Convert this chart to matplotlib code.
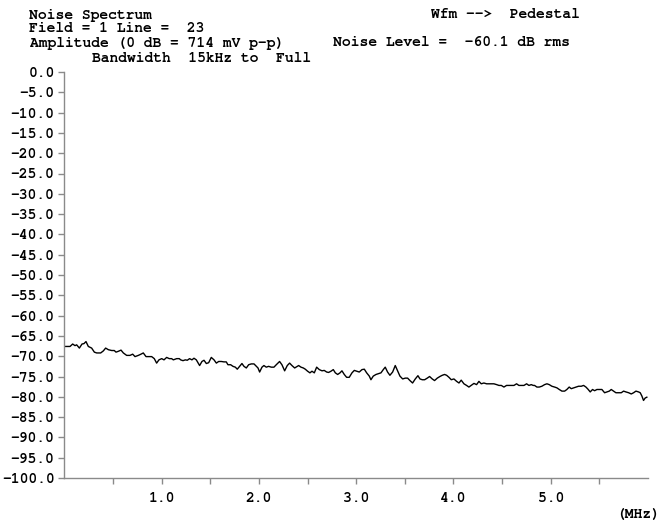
import matplotlib
matplotlib.use("Agg")
import matplotlib.pyplot as plt
import numpy as np

# noise spectrum trace (MHz, dB)
freq_mhz = [
    0.000, 0.059, 0.086, 0.110, 0.127, 0.155, 0.182, 0.202, 0.223, 0.247,
    0.281, 0.309, 0.333, 0.374, 0.401, 0.425, 0.453, 0.487, 0.514, 0.531,
    0.555, 0.583, 0.607, 0.641, 0.675, 0.703, 0.727, 0.761, 0.788, 0.812,
    0.840, 0.898, 0.925, 0.949, 0.973, 1.001, 1.025, 1.052, 1.079, 1.103,
    1.121, 1.155, 1.182, 1.196, 1.220, 1.244, 1.264, 1.288, 1.312, 1.333,
    1.357, 1.391, 1.415, 1.436, 1.460, 1.484, 1.511, 1.539, 1.563, 1.587,
    1.614, 1.641, 1.665, 1.682, 1.710, 1.734, 1.758, 1.778, 1.802, 1.826,
    1.847, 1.871, 1.895, 1.922, 1.950, 1.974, 1.991, 2.008, 2.032, 2.052,
    2.076, 2.100, 2.128, 2.155, 2.179, 2.213, 2.237, 2.265, 2.292, 2.316,
    2.340, 2.368, 2.395, 2.409, 2.433, 2.457, 2.477, 2.501, 2.525, 2.546,
    2.570, 2.594, 2.621, 2.649, 2.672, 2.697, 2.717, 2.741, 2.765, 2.786,
    2.810, 2.834, 2.854, 2.878, 2.902, 2.929, 2.957, 2.981, 3.005, 3.032,
    3.060, 3.084, 3.108, 3.135, 3.152, 3.176, 3.204, 3.231, 3.255, 3.279,
    3.299, 3.323, 3.347, 3.375, 3.402, 3.426, 3.450, 3.478, 3.505, 3.529,
    3.553, 3.580, 3.608, 3.635, 3.656, 3.680, 3.704, 3.731, 3.755, 3.782,
    3.806, 3.834, 3.861, 3.885, 3.909, 3.930, 3.954, 3.978, 4.005, 4.033,
    4.057, 4.080, 4.108, 4.135, 4.159, 4.183, 4.211, 4.238, 4.262, 4.286,
    4.313, 4.341, 4.375, 4.416, 4.444, 4.468, 4.492, 4.519, 4.546, 4.570,
    4.594, 4.622, 4.649, 4.673, 4.697, 4.725, 4.752, 4.776, 4.800, 4.820,
    4.834, 4.858, 4.882, 4.909, 4.937, 4.961, 4.985, 5.012, 5.040, 5.064,
    5.088, 5.115, 5.143, 5.166, 5.190, 5.211, 5.235, 5.259, 5.286, 5.314,
    5.338, 5.362, 5.382, 5.406, 5.430, 5.451, 5.475, 5.499, 5.526, 5.554,
    5.578, 5.602, 5.622, 5.646, 5.670, 5.697, 5.725, 5.749, 5.773, 5.801,
    5.828, 5.852, 5.876, 5.903, 5.920, 5.937, 5.954, 5.971, 5.988,
]
level_db = [
    -67.6, -67.6, -67.0, -67.4, -67.2, -68.0, -67.0, -66.9, -66.4, -67.6,
    -68.0, -69.0, -69.2, -69.2, -68.7, -68.0, -68.4, -68.6, -68.6, -69.0,
    -68.8, -68.5, -69.2, -69.8, -69.8, -69.5, -70.1, -69.8, -69.5, -69.2,
    -70.1, -70.1, -70.6, -71.7, -70.9, -70.6, -70.9, -70.3, -70.6, -70.6,
    -70.9, -70.6, -70.6, -70.9, -71.1, -70.9, -71.0, -70.6, -70.9, -70.5,
    -70.9, -72.3, -71.3, -71.0, -71.8, -71.6, -70.3, -70.9, -71.7, -71.3,
    -71.3, -71.4, -71.4, -72.1, -72.1, -72.5, -72.7, -73.2, -72.5, -71.8,
    -72.5, -72.9, -72.1, -71.9, -71.9, -72.5, -72.9, -73.9, -72.7, -72.3,
    -72.7, -72.5, -72.7, -72.7, -72.1, -71.3, -72.1, -73.6, -72.3, -71.7,
    -72.3, -72.9, -72.5, -72.3, -72.7, -72.9, -73.2, -73.7, -74.1, -73.7,
    -74.1, -72.7, -73.3, -73.6, -73.5, -73.9, -74.0, -73.7, -73.3, -74.1,
    -74.5, -74.1, -73.6, -74.5, -75.2, -75.2, -74.1, -73.5, -73.7, -73.9,
    -73.3, -73.2, -74.1, -74.9, -75.8, -74.9, -74.5, -74.3, -74.1, -73.3,
    -72.7, -73.9, -74.7, -73.9, -72.3, -73.6, -74.9, -75.6, -75.4, -75.4,
    -76.0, -76.6, -75.6, -74.8, -75.6, -75.8, -75.8, -75.4, -75.0, -75.6,
    -76.0, -75.4, -75.0, -74.7, -74.5, -74.7, -75.2, -75.8, -75.6, -76.2,
    -76.6, -75.9, -76.8, -77.2, -77.6, -77.2, -76.7, -77.0, -76.2, -76.8,
    -76.6, -76.8, -76.8, -76.8, -77.0, -77.2, -77.2, -77.6, -77.2, -77.2,
    -77.2, -77.2, -76.8, -77.2, -77.2, -77.2, -76.8, -77.2, -77.0, -77.2,
    -77.2, -77.6, -77.6, -77.4, -77.0, -76.8, -77.0, -77.4, -77.6, -77.8,
    -78.2, -78.6, -78.6, -78.2, -77.6, -78.0, -77.8, -77.6, -77.4, -77.4,
    -77.2, -77.6, -78.1, -78.8, -78.2, -78.5, -78.2, -78.2, -78.2, -79.0,
    -78.8, -78.6, -78.2, -78.6, -79.0, -79.0, -79.0, -78.6, -78.8, -79.0,
    -79.3, -79.0, -78.6, -78.8, -79.0, -79.8, -80.9, -80.3, -80.1,
]

y_ticks = np.arange(0, -101, -5)
x_major = [1, 2, 3, 4, 5]
x_minor = [0.5, 1.5, 2.5, 3.5, 4.5, 5.5]

header = [
    ("Noise Spectrum", 29, 15),
    ("Wfm -->  Pedestal", 431, 15),
    ("Field = 1 Line =  23", 29, 29),
    ("Amplitude (0 dB = 714 mV p-p)", 30, 43),
    ("Noise Level =  -60.1 dB rms", 333, 43),
    ("Bandwidth  15kHz to  Full", 92, 58),
]

W, H = 662, 523
plt.rcParams['font.family'] = ['Nimbus Mono PS', 'FreeMono', 'Courier New',
                               'Liberation Mono', 'DejaVu Sans Mono']
plt.rcParams['font.weight'] = 'bold'
fs = 10.5
grey = '#8a8a8a'

fig = plt.figure(figsize=(W / 100, H / 100), dpi=100)
ax = fig.add_axes([64.3 / W, 1 - 478 / H, (648 - 64.3) / W, (478 - 72) / H])

ax.plot(freq_mhz, level_db, color='black', lw=1.0)
ax.set_xlim(0, 6)
ax.set_ylim(-100, 0)

ax.set_yticks(y_ticks)
ax.set_yticklabels([f"{v:.1f}" for v in y_ticks], fontsize=fs, fontweight='bold')
ax.set_xticks(x_major)
ax.set_xticklabels([f"{v:.1f}" for v in x_major], fontsize=fs, fontweight='bold')
ax.set_xticks(x_minor, minor=True)
ax.tick_params(axis='both', which='both', color=grey, direction='out', length=4, width=1)
ax.tick_params(axis='x', pad=6)
ax.tick_params(axis='y', pad=3)

for s in ['top', 'right']:
    ax.spines[s].set_visible(False)
for s in ['left', 'bottom']:
    ax.spines[s].set_color(grey)
    ax.spines[s].set_linewidth(1)

for txt, px, py in header:
    fig.text(px / W, 1 - py / H, txt, fontsize=fs, fontweight='bold', va='center', ha='left')
fig.text(660 / W, 1 - 514 / H, "(MHz)", fontsize=fs, fontweight='bold', va='center', ha='right')

fig.savefig('out.png', dpi=100)
